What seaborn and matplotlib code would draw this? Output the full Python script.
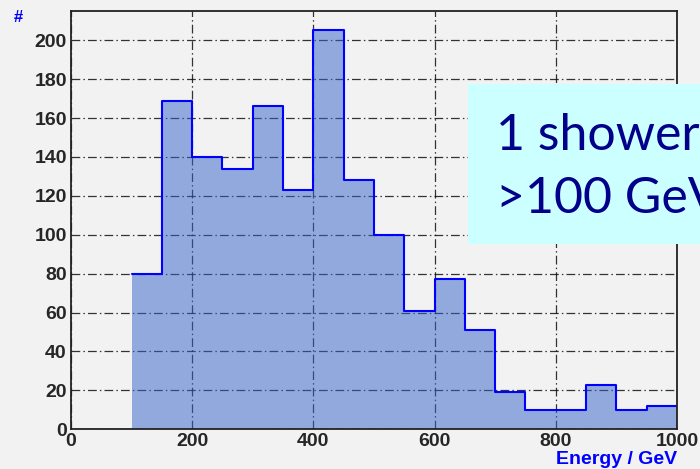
import numpy as np
import pandas as pd
import matplotlib
matplotlib.use("Agg")
import matplotlib.pyplot as plt
from matplotlib.ticker import MultipleLocator
import matplotlib.patches as mpatches
import seaborn as sns

# Data
bin_edges = [100, 150, 200, 250, 300, 350, 400, 450, 500, 550, 600, 650, 700, 750, 800, 850, 900, 950, 1000]
counts = [80, 169, 140, 134, 166, 123, 205, 128, 100, 61, 77, 51, 19, 10, 10, 23, 10, 12]
x_ticks = [0, 200, 400, 600, 800, 1000]
y_ticks = [0, 20, 40, 60, 80, 100, 120, 140, 160, 180, 200]
x_label = "Energy / GeV"
y_label = "#"
box_lines = ["1 shower", ">100 GeV"]

sns.set_theme(style="white")
plt.rcParams['font.family'] = ['Liberation Sans', 'DejaVu Sans']

bg = "#f2f2f2"
fig = plt.figure(figsize=(7.0, 4.69), dpi=100, facecolor=bg)
ax = fig.add_axes([0.1014, 0.0847, 0.8656, 0.8918])
ax.set_facecolor(bg)

centers = [(a + b) / 2 for a, b in zip(bin_edges[:-1], bin_edges[1:])]
df = pd.DataFrame({"energy": centers, "n": counts})
sns.histplot(data=df, x="energy", weights="n", bins=bin_edges, element="step",
             fill=True, color="#3462cc", alpha=0.5, linewidth=0, ax=ax, zorder=2)
sns.histplot(data=df, x="energy", weights="n", bins=bin_edges, element="step",
             fill=False, color="#0000ff", linewidth=1.5, ax=ax, zorder=4)

ax.set_xlim(0, 1000)
ax.set_ylim(0, 215)
ax.set_xticks(x_ticks)
ax.set_yticks(y_ticks)
ax.xaxis.set_minor_locator(MultipleLocator(50))
ax.yaxis.set_minor_locator(MultipleLocator(5))
ax.grid(True, which="major", color="#111111", linewidth=0.9, alpha=0.85,
        linestyle=(0, (7, 2.5, 1.2, 2.5)), zorder=3)
for gl in ax.get_xgridlines() + ax.get_ygridlines():
    gl.set_zorder(3)
ax.tick_params(which="major", direction="in", length=8, width=1.2, color="#222222",
               labelsize=14, pad=3, top=False, right=False)
ax.tick_params(which="minor", direction="in", length=5, width=1.0, color="#222222",
               top=False, right=False)
for lab in ax.get_xticklabels() + ax.get_yticklabels():
    lab.set_fontweight("bold")
for sp in ax.spines.values():
    sp.set_color("#222222")
    sp.set_linewidth(1.3)
    sp.set_zorder(5)
ax.set_xlabel("")
ax.set_ylabel("")

fig.text(18 / 700, 1 - 17 / 469, y_label, color="#0000ff", fontsize=12, fontweight="bold",
         ha="center", va="center")
fig.text(677 / 700, 1 - 459 / 469, x_label, color="#0000ff", fontsize=14, fontweight="bold",
         ha="right", va="center")

rect = mpatches.Rectangle((468 / 700, 1 - 244 / 469), 0.4, 160 / 469, transform=fig.transFigure,
                          facecolor="#ccffff", edgecolor="none", zorder=6)
fig.patches.append(rect)
fig.text(496 / 700, 1 - 150 / 469, box_lines[0], color="#00008b", fontsize=36,
         family=["Lato", "DejaVu Sans"], ha="left", va="baseline", zorder=7)
fig.text(496 / 700, 1 - 213 / 469, box_lines[1], color="#00008b", fontsize=36,
         family=["Lato", "DejaVu Sans"], ha="left", va="baseline", zorder=7)

fig.savefig("out.png", dpi=100, facecolor=bg)
